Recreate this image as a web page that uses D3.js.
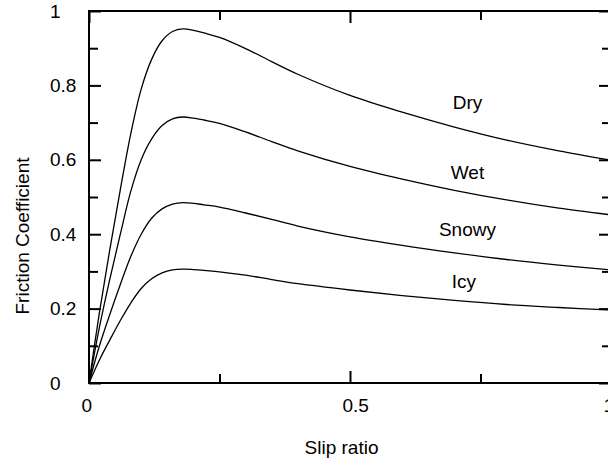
<!DOCTYPE html>
<html>
<head>
<meta charset="utf-8">
<script src="https://cdn.jsdelivr.net/npm/d3@7"></script>
<style>
  body { margin: 0; background: #fff; }
  svg { display: block; font-family: "Liberation Sans", Arial, sans-serif; }
</style>
</head>
<body>
<svg></svg>
<script>
const slip  = [0, 0.02, 0.04, 0.06, 0.08, 0.1, 0.12, 0.14, 0.16, 0.18, 0.2, 0.22, 0.25, 0.3, 0.35, 0.4, 0.5, 0.6, 0.7, 0.8, 0.9, 1.0];
const dry   = [0, 0.19, 0.36, 0.52, 0.67, 0.79, 0.87, 0.92, 0.945, 0.952, 0.948, 0.941, 0.929, 0.899, 0.864, 0.83, 0.773, 0.728, 0.688, 0.653, 0.624, 0.599];
const wet   = [0, 0.15, 0.28, 0.40, 0.515, 0.60, 0.656, 0.692, 0.71, 0.715, 0.712, 0.707, 0.698, 0.675, 0.649, 0.624, 0.582, 0.548, 0.518, 0.492, 0.47, 0.452];
const snowy = [0, 0.10, 0.185, 0.265, 0.34, 0.40, 0.443, 0.468, 0.481, 0.485, 0.483, 0.479, 0.473, 0.457, 0.44, 0.422, 0.393, 0.37, 0.35, 0.332, 0.317, 0.304];
const icy   = [0, 0.062, 0.116, 0.168, 0.215, 0.254, 0.28, 0.296, 0.304, 0.306, 0.305, 0.303, 0.299, 0.29, 0.278, 0.267, 0.25, 0.235, 0.222, 0.211, 0.203, 0.196];

const seriesNames = ['Dry', 'Wet', 'Snowy', 'Icy'];
const labelPos = [[0.725, 0.755], [0.725, 0.567], [0.725, 0.414], [0.718, 0.274]];

const xMajor = [0, 0.5, 1];
const xMinor = [0.25, 0.75];
const yMajor = [0, 0.2, 0.4, 0.6, 0.8, 1];
const yMinor = [0.1, 0.3, 0.5, 0.7, 0.9];
const xLabels = ['0', '0.5', '1'];
const yLabels = ['0', '0.2', '0.4', '0.6', '0.8', '1'];

const width = 608, height = 466;
const margin = { left: 89, top: 11, right: -3, bottom: 83 };

const svg = d3.select('svg')
    .attr('width', width)
    .attr('height', height);

const x = d3.scaleLinear().domain([0, 1]).range([margin.left, width - margin.right]);
const y = d3.scaleLinear().domain([0, 1]).range([height - margin.bottom, margin.top]);

const series = [dry, wet, snowy, icy];

const line = d3.line()
    .x(d => x(d[0]))
    .y(d => y(d[1]))
    .curve(d3.curveCatmullRom.alpha(0.5));

svg.append('g').selectAll('path').data(series)
    .enter().append('path')
    .attr('d', vals => line(slip.map((s, i) => [s, vals[i]])))
    .attr('fill', 'none')
    .attr('stroke', '#000')
    .attr('stroke-width', 1.3);

// ticks, all pointing inward
function ticks(axis, values, size, tx) {
    const g = svg.append('g')
        .attr('transform', tx)
        .call(axis.tickValues(values).tickSizeInner(size).tickSizeOuter(0).tickFormat(''));
    g.selectAll('line').attr('stroke', '#000').attr('stroke-width', 2);
    g.select('.domain').remove();
}
ticks(d3.axisBottom(x), xMajor, -12, `translate(0,${y(0)})`);
ticks(d3.axisBottom(x), xMinor, -9, `translate(0,${y(0)})`);
ticks(d3.axisTop(x), xMajor, -12, `translate(0,${y(1)})`);
ticks(d3.axisTop(x), xMinor, -9, `translate(0,${y(1)})`);
ticks(d3.axisLeft(y), yMajor, -12, `translate(${x(0)},0)`);
ticks(d3.axisLeft(y), yMinor, -9, `translate(${x(0)},0)`);
ticks(d3.axisRight(y), yMajor, -12, `translate(${x(1)},0)`);
ticks(d3.axisRight(y), yMinor, -9, `translate(${x(1)},0)`);

svg.append('rect')
    .attr('x', x(0)).attr('y', y(1))
    .attr('width', x(1) - x(0)).attr('height', y(0) - y(1))
    .attr('fill', 'none')
    .attr('stroke', '#000')
    .attr('stroke-width', 2);

svg.append('g').selectAll('text').data(yMajor)
    .enter().append('text')
    .attr('x', 50)
    .attr('y', d => y(d) + 6.5)
    .attr('font-size', 19)
    .text((d, i) => yLabels[i]);

svg.append('g').selectAll('text').data(xMajor)
    .enter().append('text')
    .attr('x', d => x(d) - 7.5)
    .attr('y', 412)
    .attr('font-size', 19)
    .text((d, i) => xLabels[i]);

svg.append('g').selectAll('text').data(seriesNames)
    .enter().append('text')
    .attr('x', (d, i) => x(labelPos[i][0]))
    .attr('y', (d, i) => y(labelPos[i][1]) + 7)
    .attr('text-anchor', 'middle')
    .attr('font-size', 19)
    .text(d => d);

svg.append('text')
    .attr('x', 341.5)
    .attr('y', 454)
    .attr('text-anchor', 'middle')
    .attr('font-size', 19)
    .text('Slip ratio');

svg.append('text')
    .attr('transform', 'translate(29,236) rotate(-90)')
    .attr('text-anchor', 'middle')
    .attr('font-size', 19)
    .text('Friction Coefficient');
</script>
</body>
</html>
